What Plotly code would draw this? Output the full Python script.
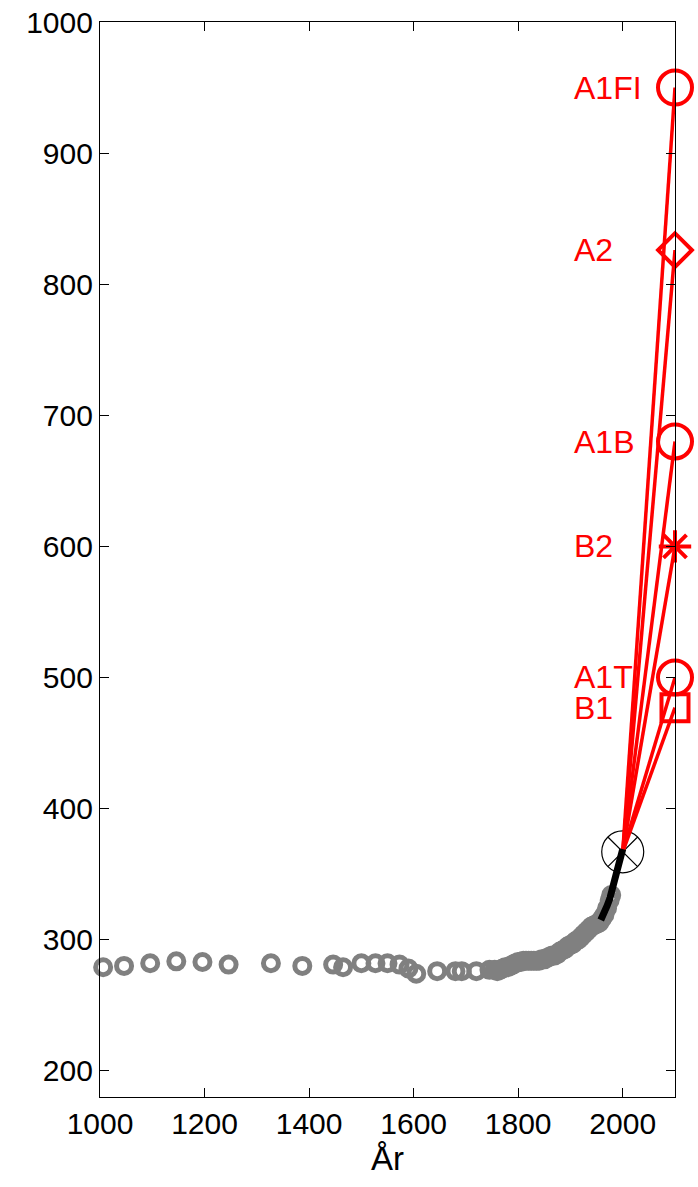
import plotly.graph_objects as go

# Ice-core CO2 (ppm)
ice_years = [1006, 1046, 1096, 1146, 1196, 1246, 1327, 1387, 1446, 1465, 1500, 1527,
             1550, 1573, 1590, 1605, 1645, 1680, 1692, 1720, 1745,
             1755, 1760, 1765, 1770, 1775, 1780, 1785, 1790, 1795, 1800, 1805, 1810,
             1815, 1820, 1825, 1830, 1835, 1840, 1845, 1850, 1855, 1860, 1865, 1870,
             1875, 1880, 1885, 1890, 1895, 1900, 1905, 1910, 1915, 1920, 1925, 1930,
             1935, 1940, 1945, 1950, 1955, 1960, 1965, 1970, 1975, 1978]
ice_co2 = [279, 280, 282, 283.5, 283, 281, 282, 280, 281, 279, 282, 282,
           282, 281, 278, 274, 276, 276, 276, 276, 277,
           277, 276, 277, 278, 279, 279, 280, 281, 282, 283, 283, 284,
           284, 284, 284, 284, 284, 284, 285, 285, 286, 287, 288, 288,
           289, 291, 292, 293, 295, 296, 297, 299, 300, 302, 304, 306,
           308, 310, 311, 312, 313, 316, 319, 324, 330, 334]

# Mauna Loa measurements
ml_years = [1958, 1965, 1970, 1975, 1980, 1985, 1990, 1995, 2000]
ml_co2 = [315, 320, 325.7, 331, 338.7, 346, 354, 361, 369]

# Starting point (year 2000)
start_year = 2000
start_co2 = 367

# Scenarios for 2100
scen_names = ["A1FI", "A2", "A1B", "B2", "A1T", "B1"]
scen_co2 = [950, 826, 680, 600, 500, 477]
scen_year = 2100
scen_symbols = ["circle-open", "diamond-open", "circle-open", "asterisk-open", "circle-open", "square-open"]
scen_sizes = [34, 26, 34, 27, 34, 27]
label_year = 1905

FONT = "Liberation Sans, Arial, Helvetica, sans-serif"
RED = "#ff0000"

fig = go.Figure()

fig.add_trace(go.Scatter(
    x=ice_years, y=ice_co2, mode="markers",
    marker=dict(symbol="circle-open", size=15, color="#808080", line=dict(width=5, color="#808080")),
    cliponaxis=False, showlegend=False))

fig.add_trace(go.Scatter(
    x=[start_year], y=[start_co2], mode="markers",
    marker=dict(symbol="circle-x-open", size=42, color="black", line=dict(width=1.2, color="black")),
    cliponaxis=False, showlegend=False))

for name, val in zip(scen_names, scen_co2):
    fig.add_trace(go.Scatter(
        x=[start_year, scen_year], y=[start_co2, val], mode="lines",
        line=dict(color=RED, width=3.5), cliponaxis=False, showlegend=False))

fig.add_trace(go.Scatter(
    x=ml_years, y=ml_co2, mode="lines",
    line=dict(color="black", width=7), cliponaxis=False, showlegend=False))

for name, val, sym, sz in zip(scen_names, scen_co2, scen_symbols, scen_sizes):
    fig.add_trace(go.Scatter(
        x=[scen_year], y=[val], mode="markers",
        marker=dict(symbol=sym, size=sz, color=RED, line=dict(width=4, color=RED)),
        cliponaxis=False, showlegend=False))
    fig.add_annotation(x=label_year, y=val, text=name, showarrow=False,
                       xanchor="left", yanchor="middle", borderpad=0,
                       font=dict(family=FONT, size=32, color=RED))

fig.update_layout(
    width=698, height=1187,
    margin=dict(l=100, r=23, t=22, b=90, autoexpand=False),
    plot_bgcolor="white", paper_bgcolor="white",
    font=dict(family=FONT, size=30, color="black"),
)
fig.update_xaxes(range=[1000, 2100], tickvals=[1000, 1200, 1400, 1600, 1800, 2000],
                 ticks="inside", ticklen=9, tickcolor="black", showline=True, linecolor="black",
                 linewidth=1.2, mirror="allticks", showgrid=False, zeroline=False, automargin=False,
                 ticklabeloverflow="allow",
                 tickfont=dict(size=30), title=dict(text="År", font=dict(size=33), standoff=2))
fig.update_yaxes(range=[180, 1000], tickvals=[200, 300, 400, 500, 600, 700, 800, 900, 1000],
                 ticks="inside", ticklen=9, tickcolor="black", showline=True, linecolor="black",
                 linewidth=1.2, mirror="allticks", showgrid=False, zeroline=False, automargin=False,
                 ticklabeloverflow="allow",
                 tickfont=dict(size=30))

fig.write_html("out.html", config={"displayModeBar": False},
               post_script="document.body.style.margin='0';document.body.style.overflow='hidden';")
